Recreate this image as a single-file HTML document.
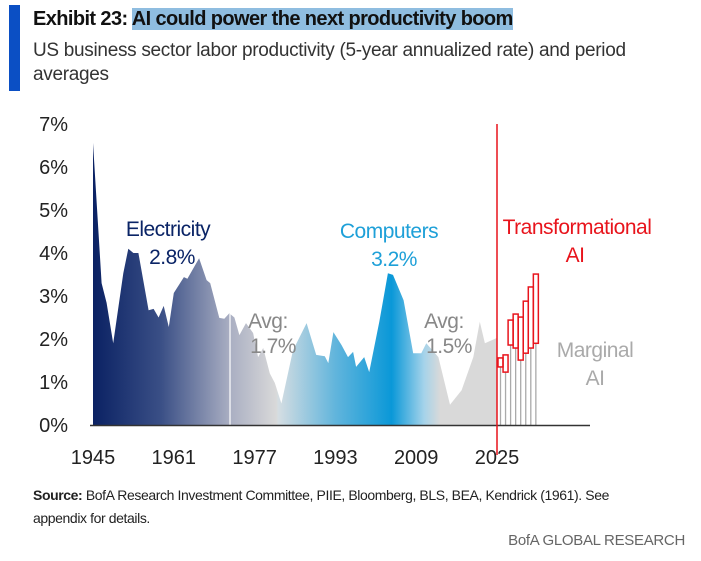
<!DOCTYPE html>
<html><head><meta charset="utf-8"><style>
body{margin:0;background:#fff;width:701px;height:561px;overflow:hidden;font-family:"Liberation Sans",sans-serif;position:relative}
.bar{position:absolute;left:9px;top:5px;width:11px;height:86px;background:#0b4fc4}
.title{position:absolute;left:33px;top:8px;font-size:20px;font-weight:bold;color:#111;letter-spacing:-0.6px;white-space:nowrap}
.title span{background:#8fbde0}
.sub{position:absolute;left:33px;top:39px;font-size:19px;color:#333;line-height:24px;width:650px;letter-spacing:-0.3px}
.src{position:absolute;left:33px;top:484px;font-size:14px;color:#222;line-height:23px;width:620px;letter-spacing:-0.4px}
.brand{position:absolute;right:16px;top:532px;font-size:15px;color:#666;letter-spacing:-0.3px}
svg{position:absolute;left:0;top:0}
</style></head><body>
<div class="bar"></div>
<div class="title">Exhibit 23: <span>AI could power the next productivity boom</span></div>
<div class="sub">US business sector labor productivity (5-year annualized rate) and period averages</div>
<svg id="chart" width="701" height="561">
<defs>
<linearGradient id="g" gradientUnits="userSpaceOnUse" x1="92" y1="0" x2="497" y2="0">
<stop offset="0" stop-color="#0a2163"/>
<stop offset="0.17" stop-color="#3a4f86"/>
<stop offset="0.34" stop-color="#a9aec2"/>
<stop offset="0.455" stop-color="#d9d9d9"/>
<stop offset="0.46" stop-color="#d4dde2"/>
<stop offset="0.6" stop-color="#62b5dc"/>
<stop offset="0.74" stop-color="#0a98d8"/>
<stop offset="0.82" stop-color="#a5d3ea"/>
<stop offset="0.86" stop-color="#d9d9d9"/>
<stop offset="1" stop-color="#d9d9d9"/>
</linearGradient>
</defs>
</svg>
<div class="src"><b>Source:</b> BofA Research Investment Committee, PIIE, Bloomberg, BLS, BEA, Kendrick (1961). See appendix for details.</div>
<div class="brand">BofA GLOBAL RESEARCH</div>
<script>
const years=[1945,1946.7,1947.7,1949,1951,1952,1953,1954,1956,1957,1958,1959,1960,1961,1963,1963.7,1966,1967.5,1968.2,1970,1971,1972,1973,1974,1975.3,1976.7,1977.7,1978.7,1980,1981,1982.3,1984.6,1987.3,1989.2,1990.9,1991.6,1992.6,1994.2,1995.5,1996.5,1997.1,1998.7,1999.7,2001.7,2003.4,2004.4,2006.5,2008.4,2010,2011,2013.4,2015.7,2018,2020.3,2021.6,2022.6,2024.9];
const productivity=[6.56,3.3,2.84,1.9,3.53,4.1,4.0,4.0,2.67,2.7,2.5,2.77,2.28,3.07,3.44,3.4,3.88,3.37,3.3,2.49,2.47,2.6,2.5,2.09,2.37,2.14,1.58,1.79,1.2,0.98,0.5,1.74,2.37,1.63,1.6,1.44,2.16,1.86,1.58,1.7,1.35,1.58,1.23,2.4,3.53,3.49,2.9,1.67,1.67,1.9,1.58,0.47,0.81,1.58,2.4,1.9,2.02];
const aiYears=[2025,2026,2027,2028,2029,2030,2031,2032];
const aiLow=[1.35,1.23,1.86,1.79,1.51,1.67,1.79,1.9];
const aiHigh=[1.56,1.63,2.44,2.58,2.51,2.88,3.21,3.51];
const yTicks=[0,1,2,3,4,5,6,7];
const xTicks=[1945,1961,1977,1993,2009,2025];
const X=y=>93+(y-1945)*5.05, Y=v=>425-v*43;
const svg=document.getElementById('chart'),NS='http://www.w3.org/2000/svg';
function mk(t,a,txt){const e=document.createElementNS(NS,t);for(const k in a)e.setAttribute(k,a[k]);if(txt!==undefined)e.textContent=txt;svg.appendChild(e);return e;}
let d='M'+X(years[0])+','+Y(0);
years.forEach((y,i)=>{d+=' L'+X(y).toFixed(1)+','+Y(productivity[i]).toFixed(1);});
d+=' L'+X(years[years.length-1])+','+Y(0)+' Z';
const area=mk('path',{d:d,fill:'url(#g)'});


const sep=mk('line',{x1:230,y1:Y(0),x2:230,y2:Y(2.6),stroke:'#fff','stroke-width':1.2});


aiYears.forEach((yr,i)=>{
 const x0=X(yr)+1,w=5;
 const gl=mk('line',{x1:x0+w/2,y1:Y(0),x2:x0+w/2,y2:Y(aiLow[i]),stroke:'#aaa','stroke-width':1.3});
 
 
 const r=mk('rect',{x:x0,y:Y(aiHigh[i]),width:w,height:Y(aiLow[i])-Y(aiHigh[i]),fill:'none',stroke:'#e8141c','stroke-width':1.5});
 
 
});
const ax=mk('line',{x1:90,y1:425.5,x2:590,y2:425.5,stroke:'#333','stroke-width':1.5});


const rl=mk('line',{x1:497,y1:124,x2:497,y2:455,stroke:'#e8141c','stroke-width':1.5});


yTicks.forEach(v=>{const t=mk('text',{x:68,y:Y(v)+7,'text-anchor':'end','font-size':20,fill:'#222'},v+'%');
 
 });
xTicks.forEach(v=>{const t=mk('text',{x:X(v),y:464,'text-anchor':'middle','font-size':20,fill:'#222'},String(v));
 
 });
const labels=[['Electricity',168,236,'#0a2466','electricity-label'],['2.8%',172,264,'#0a2466','electricity-avg'],
['Avg:',268,328,'#888','avg-label-1'],['1.7%',273,353,'#888','avg-value-1'],
['Computers',389,238,'#1ea0d8','computers-label'],['3.2%',394,266,'#1ea0d8','computers-avg'],
['Avg:',444,328,'#888','avg-label-2'],['1.5%',449,353,'#888','avg-value-2'],
['Transformational',577,234,'#e8141c','transformational-ai-label'],['AI',575,262,'#e8141c','transformational-ai-label-2'],
['Marginal',595,357,'#aaa','marginal-ai-label'],['AI',595,385,'#aaa','marginal-ai-label-2']];
labels.forEach(l=>{const t=mk('text',{x:l[1],y:l[2],'text-anchor':'middle','font-size':21,fill:l[3],'letter-spacing':'-0.5'},l[0]);
 
 });
</script>
</body></html>
